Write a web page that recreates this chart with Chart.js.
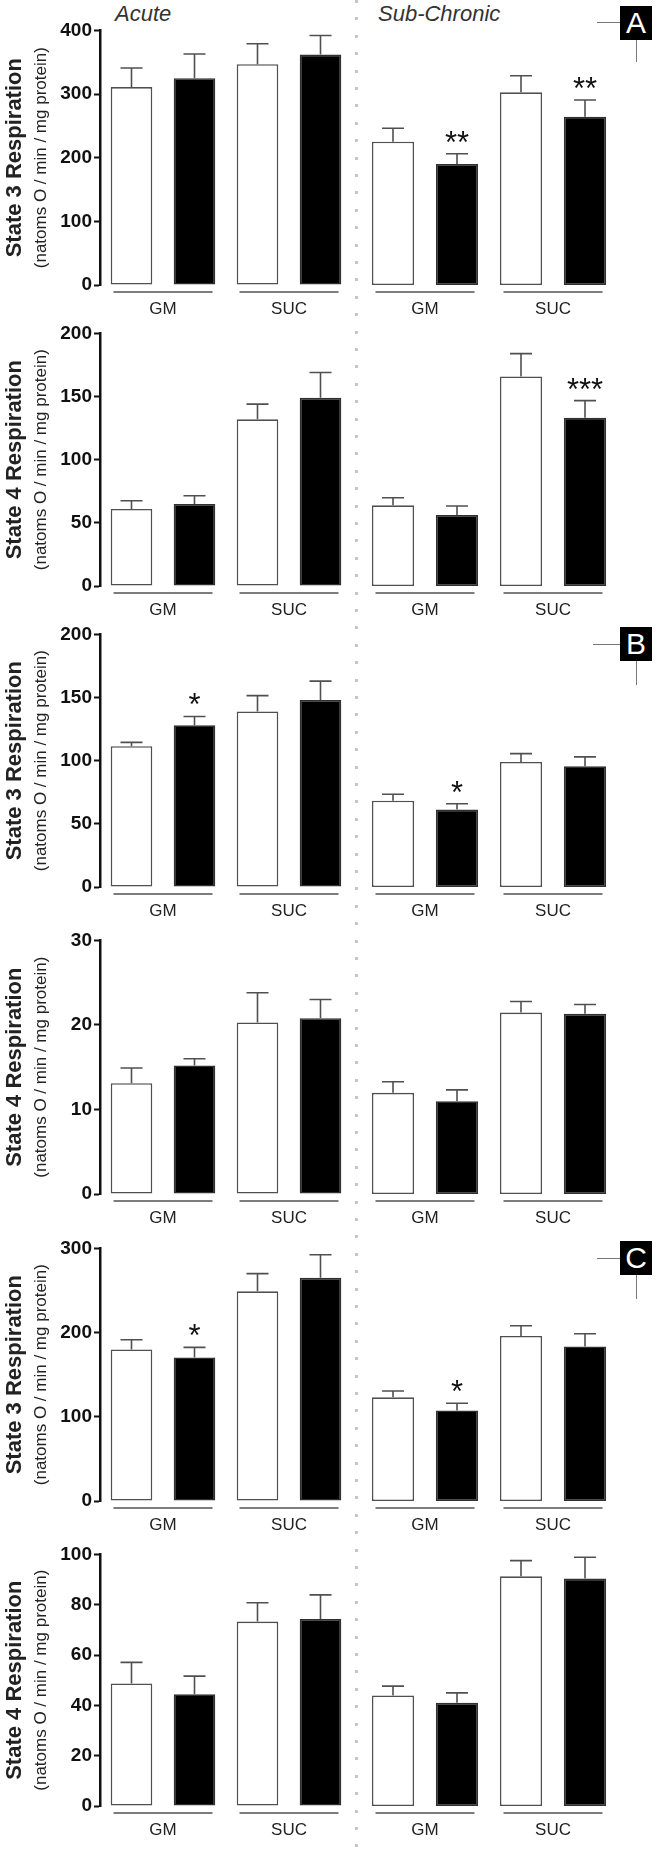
<!DOCTYPE html>
<html><head><meta charset="utf-8">
<script src="https://cdn.jsdelivr.net/npm/chart.js@4.4.1/dist/chart.umd.min.js"></script>
<style>
body{margin:0;background:#fff;width:658px;height:1849px;position:relative;overflow:hidden;font-family:'Liberation Sans',Arial,sans-serif;}
canvas{position:absolute;}
.hdr{position:absolute;font-style:italic;font-size:22px;color:#333;line-height:22px;}
.divider{position:absolute;left:355px;top:0;width:3px;height:1849px;background:repeating-linear-gradient(to bottom,#c6c6c6 0 3px,transparent 3px 17.4px);z-index:5;}
.tag{position:absolute;width:32px;height:34px;background:#000;color:#fff;font-size:30px;line-height:34px;text-align:center;}
.hl{position:absolute;height:1px;background:#777;}
.vl{position:absolute;width:1px;background:#777;}
</style></head><body>
<div class="hdr" style="left:115px;top:3px;">Acute</div>
<div class="hdr" style="left:378px;top:3px;">Sub-Chronic</div>
<div class="divider"></div>
<div class="hl" style="left:597px;top:22px;width:23px;"></div>
<div class="vl" style="left:636px;top:40px;height:22px;"></div>
<div class="tag" style="left:620px;top:6px;">A</div>
<div class="hl" style="left:593px;top:644px;width:27px;"></div>
<div class="vl" style="left:636px;top:661px;height:24px;"></div>
<div class="tag" style="left:620px;top:627px;">B</div>
<div class="hl" style="left:597px;top:1258px;width:23px;"></div>
<div class="vl" style="left:636px;top:1275px;height:24px;"></div>
<div class="tag" style="left:620px;top:1241px;">C</div>
<script>
// ---------- DATA ----------
const categories = ['GM', 'SUC'];
const panelTitles = ['State 3 Respiration','State 4 Respiration','State 3 Respiration','State 4 Respiration','State 3 Respiration','State 4 Respiration'];
const unitLabel = '(natoms O / min / mg protein)';
const axisMax = [400, 200, 200, 30, 300, 100];
const axisStep = [100, 50, 50, 10, 100, 20];

// Panel A - State 3
const a3AcuteCtrl = [311, 347];   const a3AcuteCtrlSem = [30, 32];
const a3AcuteTreat = [325, 362];  const a3AcuteTreatSem = [38, 30];
const a3SubCtrl = [224, 301];     const a3SubCtrlSem = [21, 26];
const a3SubTreat = [189, 263];    const a3SubTreatSem = [16, 26];
const a3AcuteSig = ['', ''];      const a3SubSig = ['**', '**'];
// Panel A - State 4
const a4AcuteCtrl = [61, 132];    const a4AcuteCtrlSem = [6.5, 12];
const a4AcuteTreat = [65, 149];   const a4AcuteTreatSem = [6.5, 20];
const a4SubCtrl = [63.5, 165];    const a4SubCtrlSem = [6, 18];
const a4SubTreat = [56, 132.5];   const a4SubTreatSem = [7, 13.5];
const a4AcuteSig = ['', ''];      const a4SubSig = ['', '***'];
// Panel B - State 3
const b3AcuteCtrl = [111.5, 139]; const b3AcuteCtrlSem = [3, 12.5];
const b3AcuteTreat = [128, 148];  const b3AcuteTreatSem = [7, 15];
const b3SubCtrl = [68, 98.5];     const b3SubCtrlSem = [5, 6.5];
const b3SubTreat = [61, 95];      const b3SubTreatSem = [4.5, 7.5];
const b3AcuteSig = ['*', ''];     const b3SubSig = ['*', ''];
// Panel B - State 4
const b4AcuteCtrl = [13.1, 20.3]; const b4AcuteCtrlSem = [1.8, 3.5];
const b4AcuteTreat = [15.2, 20.8];const b4AcuteTreatSem = [0.8, 2.2];
const b4SubCtrl = [11.9, 21.35];  const b4SubCtrlSem = [1.3, 1.3];
const b4SubTreat = [10.9, 21.2];  const b4SubTreatSem = [1.35, 1.1];
const b4AcuteSig = ['', ''];      const b4SubSig = ['', ''];
// Panel C - State 3
const c3AcuteCtrl = [180, 249];   const c3AcuteCtrlSem = [11.5, 21];
const c3AcuteTreat = [170.5, 265];const c3AcuteTreatSem = [12, 27.5];
const c3SubCtrl = [122.5, 195];   const c3SubCtrlSem = [7.5, 12];
const c3SubTreat = [107, 182.5];  const c3SubTreatSem = [8.5, 15];
const c3AcuteSig = ['*', ''];     const c3SubSig = ['*', ''];
// Panel C - State 4
const c4AcuteCtrl = [48.7, 73.3]; const c4AcuteCtrlSem = [8.4, 7.5];
const c4AcuteTreat = [44.4, 74.3];const c4AcuteTreatSem = [7.2, 9.6];
const c4SubCtrl = [43.7, 90.8];   const c4SubCtrlSem = [3.7, 6.2];
const c4SubTreat = [40.8, 89.9];  const c4SubTreatSem = [3.9, 8.4];
const c4AcuteSig = ['', ''];      const c4SubSig = ['', ''];

const rows = [
  {acute:[a3AcuteCtrl,a3AcuteCtrlSem,a3AcuteTreat,a3AcuteTreatSem,a3AcuteSig], sub:[a3SubCtrl,a3SubCtrlSem,a3SubTreat,a3SubTreatSem,a3SubSig]},
  {acute:[a4AcuteCtrl,a4AcuteCtrlSem,a4AcuteTreat,a4AcuteTreatSem,a4AcuteSig], sub:[a4SubCtrl,a4SubCtrlSem,a4SubTreat,a4SubTreatSem,a4SubSig]},
  {acute:[b3AcuteCtrl,b3AcuteCtrlSem,b3AcuteTreat,b3AcuteTreatSem,b3AcuteSig], sub:[b3SubCtrl,b3SubCtrlSem,b3SubTreat,b3SubTreatSem,b3SubSig]},
  {acute:[b4AcuteCtrl,b4AcuteCtrlSem,b4AcuteTreat,b4AcuteTreatSem,b4AcuteSig], sub:[b4SubCtrl,b4SubCtrlSem,b4SubTreat,b4SubTreatSem,b4SubSig]},
  {acute:[c3AcuteCtrl,c3AcuteCtrlSem,c3AcuteTreat,c3AcuteTreatSem,c3AcuteSig], sub:[c3SubCtrl,c3SubCtrlSem,c3SubTreat,c3SubTreatSem,c3SubSig]},
  {acute:[c4AcuteCtrl,c4AcuteCtrlSem,c4AcuteTreat,c4AcuteTreatSem,c4AcuteSig], sub:[c4SubCtrl,c4SubCtrlSem,c4SubTreat,c4SubTreatSem,c4SubSig]}
];

// ---------- LAYOUT ----------
const F = "'Liberation Sans', Arial, sans-serif";
const rowLayout = [{top:29,h:256},{top:332,h:254},{top:633,h:254},{top:939,h:255},{top:1247,h:254},{top:1553,h:253}];
const PAD_TOP = 12, XAX_H = 40;

const extras = {
  id: 'extras',
  afterDatasetsDraw(chart) {
    const ctx = chart.ctx, ys = chart.scales.y, xs = chart.scales.x;
    ctx.save();
    chart.data.datasets.forEach((ds, i) => {
      const meta = chart.getDatasetMeta(i);
      meta.data.forEach((el, j) => {
        const v = ds.data[j], e = ds.sem[j];
        const yTop = ys.getPixelForValue(v + e), yBar = ys.getPixelForValue(v);
        ctx.strokeStyle = '#505050'; ctx.lineWidth = 1.6;
        ctx.beginPath();
        ctx.moveTo(el.x, yBar); ctx.lineTo(el.x, yTop);
        ctx.moveTo(el.x - 11, yTop); ctx.lineTo(el.x + 11, yTop);
        ctx.stroke();
        if (ds.sig && ds.sig[j]) {
          ctx.fillStyle = '#111';
          ctx.font = '31px ' + F;
          ctx.textAlign = 'center'; ctx.textBaseline = 'alphabetic';
          ctx.fillText(ds.sig[j], el.x, yTop - 1);
        }
      });
    });
    // group underlines
    const yb = chart.chartArea.bottom + 7;
    ctx.strokeStyle = '#505050'; ctx.lineWidth = 1.4;
    categories.forEach((c, k) => {
      const cx = xs.getPixelForValue(k);
      ctx.beginPath(); ctx.moveTo(cx - 49.5, yb); ctx.lineTo(cx + 49.5, yb); ctx.stroke();
    });
    ctx.restore();
  }
};

function makeDatasets(d) {
  return [
    {data:d[0], sem:d[1], backgroundColor:'#ffffff', borderColor:'#505050', borderWidth:1.6, borderSkipped:false},
    {data:d[2], sem:d[3], sig:d[4], backgroundColor:'#000000', borderColor:'#303030', borderWidth:1.6, borderSkipped:false}
  ];
}

function xScale() {
  return {type:'category', grid:{display:false, drawTicks:false}, border:{display:false},
    ticks:{font:{size:17, family:F}, color:'#222', padding:14},
    afterFit(s){ s.height = XAX_H; }};
}

function addCanvas(left, top, w, h) {
  const c = document.createElement('canvas');
  c.width = w; c.height = h;
  c.style.left = left + 'px'; c.style.top = top + 'px';
  c.style.width = w + 'px'; c.style.height = h + 'px';
  document.body.appendChild(c);
  return c;
}

rows.forEach((r, i) => {
  const L = rowLayout[i];
  const ctop = L.top - PAD_TOP, ch = PAD_TOP + L.h + XAX_H;
  // Acute (left, with y-axis)
  new Chart(addCanvas(0, ctop, 356, ch), {
    type:'bar',
    data:{labels:categories, datasets:makeDatasets(r.acute)},
    options:{
      responsive:false, animation:false, devicePixelRatio:1,
      categoryPercentage:1.0, barPercentage:0.66,
      layout:{padding:{top:PAD_TOP, right:4, left:0, bottom:0}},
      plugins:{legend:{display:false}, tooltip:{enabled:false}},
      scales:{
        x:xScale(),
        y:{min:0, max:axisMax[i],
          ticks:{stepSize:axisStep[i], font:{size:19, weight:'bold', family:F}, color:'#111', padding:2},
          grid:{display:true, drawOnChartArea:false, drawTicks:true, tickLength:6, tickWidth:2, tickColor:'#111'},
          border:{display:true, color:'#111', width:2.5},
          title:{display:true, text:unitLabel, font:{size:17, family:F}, color:'#222', padding:{top:3, bottom:0}},
          afterFit(s){ s.width = 72; }},
        y2:{position:'left', weight:1, ticks:{display:false}, grid:{display:false}, border:{display:false},
          title:{display:true, text:panelTitles[i], font:{size:22, weight:'bold', family:F}, color:'#222', padding:{top:2, bottom:0}},
          afterFit(s){ s.width = 28; }}
      }
    },
    plugins:[extras]
  });
  // Sub-chronic (right, no axis)
  new Chart(addCanvas(358, ctop, 300, ch), {
    type:'bar',
    data:{labels:categories, datasets:makeDatasets(r.sub)},
    options:{
      responsive:false, animation:false, devicePixelRatio:1,
      categoryPercentage:1.0, barPercentage:0.66,
      layout:{padding:{top:PAD_TOP, right:41, left:3, bottom:0}},
      plugins:{legend:{display:false}, tooltip:{enabled:false}},
      scales:{
        x:xScale(),
        y:{display:false, min:0, max:axisMax[i], ticks:{stepSize:axisStep[i]}}
      }
    },
    plugins:[extras]
  });
});
</script>
</body></html>
